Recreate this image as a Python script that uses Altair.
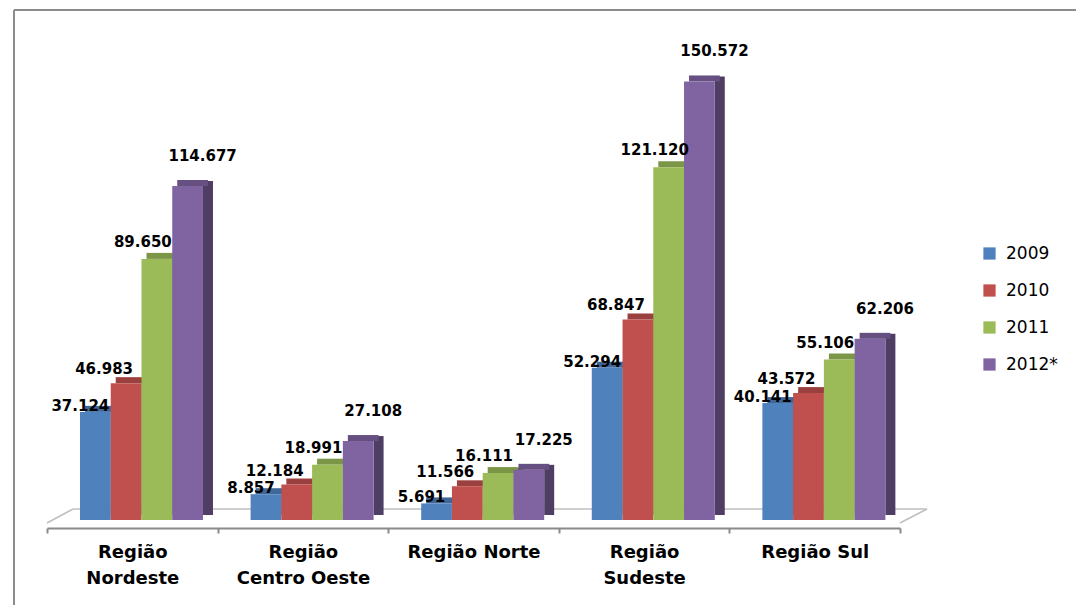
import altair as alt
import pandas as pd

regions = ["Região Nordeste", "Região Centro Oeste", "Região Norte", "Região Sudeste", "Região Sul"]
years = ["2009", "2010", "2011", "2012*"]
v2009 = [37.124, 8.857, 5.691, 52.294, 40.141]
v2010 = [46.983, 12.184, 11.566, 68.847, 43.572]
v2011 = [89.650, 18.991, 16.111, 121.120, 55.106]
v2012 = [114.677, 27.108, 17.225, 150.572, 62.206]

front_colors = ["#4F81BD", "#C0504D", "#9BBB59", "#8064A2"]
top_colors = ["#3F6797", "#9A403E", "#7C9647", "#665082"]
side_colors = ["#315075", "#773230", "#607437", "#4F3E64"]

series = [v2009, v2010, v2011, v2012]
rows = []
for y, vals in zip(years, series):
    for r, v in zip(regions, vals):
        rows.append({"region": r, "year": y, "value": v})
df = pd.DataFrame(rows)

W, H = 853, 466
xs = alt.Scale(domain=regions, paddingInner=0.279, paddingOuter=0.1395, align=0.693)
ys = alt.Scale(domain=[0, 160], nice=False, zero=True)
X = alt.X("region:N", scale=xs, axis=None, sort=regions)
Y = alt.Y("value:Q", scale=ys, axis=None)

def xoff(rng=None, pin=0.0):
    kw = dict(domain=years, paddingInner=pin, paddingOuter=0)
    if rng is not None:
        kw["range"] = rng
    return alt.XOffset("year:N", scale=alt.Scale(**kw), sort=years)

base = alt.Chart(df)

side = base.mark_bar(yOffset=-5, y2Offset=-5).encode(
    x=X, xOffset=xoff([30.75, 133.0], 0.675), y=Y,
    fill=alt.Fill("year:N", scale=alt.Scale(domain=years, range=side_colors), legend=None),
)
top = base.mark_bar(y2Offset=-6).encode(
    x=X, xOffset=xoff([5.0, 128.0]), y=Y, y2=alt.Y2("value:Q"),
    fill=alt.Fill("year:N", scale=alt.Scale(domain=years, range=top_colors), legend=None),
)
front = base.mark_bar().encode(
    x=X, xOffset=xoff(), y=Y,
    color=alt.Color("year:N", scale=alt.Scale(domain=years, range=front_colors), sort=years,
                    legend=alt.Legend(title=None, orient="none", legendX=934, legendY=191,
                                      symbolType="square", symbolSize=150, symbolStrokeWidth=0,
                                      labelFont="DejaVu Sans", labelFontSize=17, labelColor="#000000",
                                      rowPadding=19, labelOffset=8, padding=0)),
)

# label offsets relative to the bar centre
offsets = {"2009": (-15, -6), "2010": (-22, -14), "2011": (-14, -17), "2012*": (15, -30)}
labels = []
for yv in years:
    dx, dy = offsets[yv]
    labels.append(
        base.transform_filter(alt.datum.year == yv).mark_text(
            font="DejaVu Sans", fontWeight="bold", fontSize=15, color="#000000",
            baseline="middle", align="center", dx=dx, dy=dy,
        ).encode(x=X, xOffset=alt.XOffset("year:N", scale=alt.Scale(domain=years), sort=years),
                 y=Y, text=alt.Text("value:Q", format=".3f"))
    )

inner = alt.layer(side, top, front, *labels).resolve_scale(fill="independent", xOffset="independent")

axis_layer = alt.Chart(pd.DataFrame({"region": regions})).mark_point(opacity=0).encode(
    x=alt.X("region:N", sort=regions,
            scale=alt.Scale(domain=regions, paddingInner=0, paddingOuter=0),
            axis=alt.Axis(title=None, orient="bottom", offset=8, domainColor="#8A8A8A", domainWidth=2,
                          tickColor="#8A8A8A", tickWidth=2, tickSize=5, tickBand="extent",
                          labelFont="DejaVu Sans", labelFontWeight="bold", labelFontSize=18,
                          labelColor="#000000", labelPadding=10, labelLineHeight=26, labelLimit=0,
                          labelAngle=0, grid=False,
                          labelExpr="length(datum.label) > 12 ? ['Região', substring(datum.label, 7)] : datum.label"))
)

deco_df = pd.DataFrame({"k": [0]})
floor_c = "#BFBFBF"
floor = alt.layer(
    alt.Chart(deco_df).mark_rule(color=floor_c, strokeWidth=1.5).encode(
        x=alt.value(26), x2=alt.value(880), y=alt.value(455)),
    alt.Chart(deco_df).mark_rule(color=floor_c, strokeWidth=1.5).encode(
        x=alt.value(0), x2=alt.value(26), y=alt.value(469), y2=alt.value(455)),
    alt.Chart(deco_df).mark_rule(color=floor_c, strokeWidth=1.5).encode(
        x=alt.value(853), x2=alt.value(880), y=alt.value(469), y2=alt.value(455)),
)
frame = alt.layer(
    alt.Chart(deco_df).mark_rule(color="#8C8C8C", strokeWidth=2).encode(
        x=alt.value(-33), x2=alt.value(1040), y=alt.value(-44)),
    alt.Chart(deco_df).mark_rule(color="#8C8C8C", strokeWidth=2).encode(
        x=alt.value(-33), y=alt.value(-44), y2=alt.value(560)),
)

chart = alt.layer(frame, floor, axis_layer, inner).resolve_scale(x="independent").properties(
    width=W, height=H,
    autosize=alt.AutoSizeParams(type="none"),
    padding={"left": 47, "top": 54, "right": 176, "bottom": 85},
    background="#FFFFFF",
).configure_view(stroke=None)

chart.save("out.html", embed_options={"renderer": "svg", "actions": False})
